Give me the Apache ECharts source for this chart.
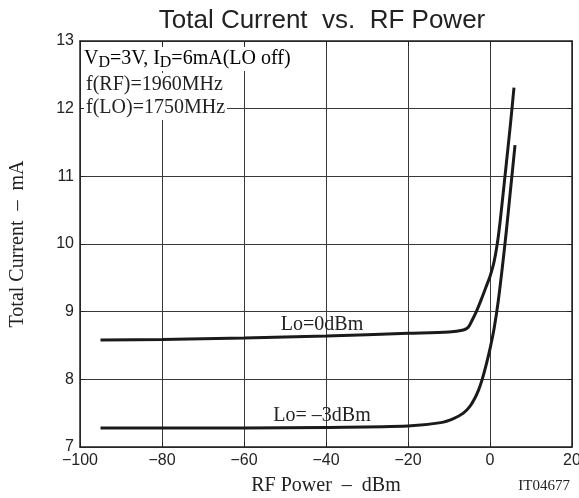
<!DOCTYPE html>
<html>
<head>
<meta charset="utf-8">
<script src="https://cdn.jsdelivr.net/npm/echarts@6/dist/echarts.min.js"></script>
<style>
html,body{margin:0;padding:0;background:#fff;}
#c{width:579px;height:498px;}
</style>
</head>
<body>
<div id="c"></div>
<script>
// Data
var xTicks = [-100, -80, -60, -40, -20, 0, 20];
var yTicks = [7, 8, 9, 10, 11, 12, 13];
var lo0Power = [-95, -80, -60, -40, -20, -10, -6.5, -5.3, -4.3, -3.2, -2, -1, 0, 0.5, 1, 1.5, 2, 2.5, 3, 4, 5, 5.85];
var lo0Current = [8.58, 8.59, 8.61, 8.64, 8.68, 8.7, 8.73, 8.77, 8.88, 9.02, 9.2, 9.36, 9.52, 9.62, 9.74, 9.9, 10.1, 10.35, 10.63, 11.2, 11.78, 12.31];
var lom3Power = [-95, -60, -40, -20, -12, -8.9, -6.5, -4.9, -3.7, -2.8, -2, -1, 0, 1, 2, 3, 4, 5, 6.1];
var lom3Current = [7.28, 7.28, 7.29, 7.31, 7.36, 7.42, 7.5, 7.6, 7.72, 7.84, 7.98, 8.2, 8.45, 8.75, 9.15, 9.65, 10.2, 10.8, 11.46];
var seriesNames = ['Lo=0dBm', 'Lo= \u20133dBm'];

function pairs(xs, ys) { return xs.map(function (x, i) { return [x, ys[i]]; }); }

var chart = echarts.init(document.getElementById('c'), null, {renderer: 'canvas'});
var serif = 'Liberation Serif, Times New Roman, serif';
var sans = 'Liberation Sans, Arial, sans-serif';
var lineCol = '#1a1a1a';
var gridCol = '#3a3a3a';

var baseX = {
  type: 'value', min: xTicks[0], max: xTicks[xTicks.length - 1], interval: 20,
  axisLine: {show: true, onZero: false, lineStyle: {color: '#222', width: 1.5}},
  axisTick: {show: true, inside: true, length: 5, lineStyle: {color: '#222'}},
  splitLine: {show: false}
};
var baseY = {
  type: 'value', min: yTicks[0], max: yTicks[yTicks.length - 1], interval: 1,
  axisLine: {show: true, onZero: false, lineStyle: {color: '#222', width: 1.5}},
  axisTick: {show: true, inside: true, length: 5, lineStyle: {color: '#222'}},
  splitLine: {show: false}
};

chart.setOption({
  animation: false,
  backgroundColor: '#fff',
  grid: {left: 80, right: 7, top: 41, bottom: 51, containLabel: false, outerBoundsMode: 'none'},
  xAxis: [
    Object.assign({}, baseX, {
      position: 'bottom',
      splitLine: {show: true, lineStyle: {color: gridCol, width: 1}},
      axisLabel: {color: '#222', fontFamily: sans, fontSize: 16, margin: 6,
        formatter: function (v) { return v < 0 ? '\u2212' + Math.abs(v) : String(v); }},
      name: 'RF Power  \u2013  dBm', nameLocation: 'middle', nameGap: 29,
      nameTextStyle: {color: '#222', fontFamily: serif, fontSize: 20}
    }),
    Object.assign({}, baseX, {position: 'top', axisLabel: {show: false}})
  ],
  yAxis: [
    Object.assign({}, baseY, {
      position: 'left',
      splitLine: {show: true, lineStyle: {color: gridCol, width: 1}},
      axisLabel: {color: '#222', fontFamily: sans, fontSize: 16, margin: 6},
      name: 'Total Current  \u2013  mA', nameLocation: 'middle', nameGap: 52,
      nameTextStyle: {color: '#222', fontFamily: serif, fontSize: 20}
    }),
    Object.assign({}, baseY, {position: 'right', axisLabel: {show: false}})
  ],
  series: [
    {
      name: seriesNames[0], type: 'line', data: pairs(lo0Power, lo0Current),
      showSymbol: false, smooth: 0.3, z: 5,
      lineStyle: {color: lineCol, width: 3}
    },
    {
      name: seriesNames[1], type: 'line', data: pairs(lom3Power, lom3Current),
      showSymbol: false, smooth: 0.3, z: 5,
      lineStyle: {color: lineCol, width: 3}
    }
  ],
  graphic: [
    {type: 'text', z: 10,
      style: {text: 'Total Current  vs.  RF Power', x: 322, y: 21, align: 'center', verticalAlign: 'middle',
        font: '26px ' + sans, fill: '#222'}},
    {type: 'text', z: 10,
      style: {x: 83, y: 47, text: '{a|V}{s|D}{a|=3V, I}{s|D}{a|=6mA(LO off)}',
        backgroundColor: '#fff', padding: [0, 2, 0, 1],
        rich: {
          a: {fontFamily: serif, fontSize: 20, lineHeight: 24, color: '#222'},
          s: {fontFamily: serif, fontSize: 16, lineHeight: 16, verticalAlign: 'bottom', color: '#222'}
        }}},
    {type: 'text', z: 10,
      style: {x: 84, y: 73, text: 'f(RF)=1960MHz', font: '20px ' + serif, fill: '#222',
        backgroundColor: '#fff', padding: [2, 2, 2, 2]}},
    {type: 'text', z: 10,
      style: {x: 84, y: 96, text: 'f(LO)=1750MHz', font: '20px ' + serif, fill: '#222',
        backgroundColor: '#fff', padding: [2, 2, 2, 2]}},
    {type: 'text', z: 10,
      style: {x: 322, y: 325, text: seriesNames[0], font: '20px ' + serif, fill: '#222',
        align: 'center', verticalAlign: 'middle'}},
    {type: 'text', z: 10,
      style: {x: 322, y: 416, text: seriesNames[1], font: '20px ' + serif, fill: '#222',
        align: 'center', verticalAlign: 'middle'}},
    {type: 'text', z: 10,
      style: {x: 570, y: 486, text: 'IT04677', font: '15px ' + serif, fill: '#222',
        align: 'right', verticalAlign: 'middle'}}
  ]
});
</script>
</body>
</html>
